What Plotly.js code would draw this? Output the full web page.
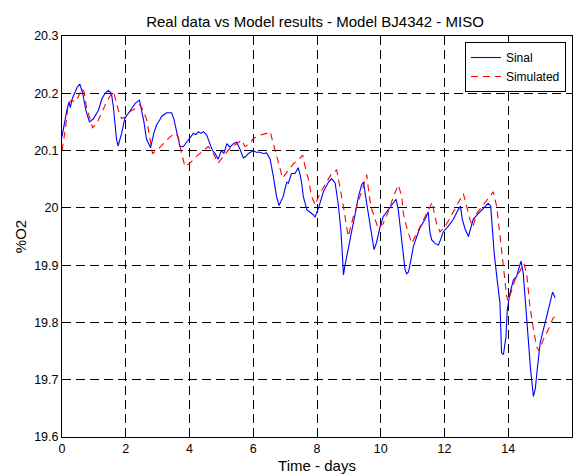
<!DOCTYPE html>
<html>
<head>
<meta charset="utf-8">
<script src="https://cdn.plot.ly/plotly-3.0.1.min.js"></script>
<style>html,body{margin:0;padding:0;background:#fff;}#chart{width:578px;height:475px;}</style>
</head>
<body>
<div id="chart"></div>
<script>
const sinalDays = [0,0.08,0.15,0.22,0.26,0.32,0.4,0.48,0.56,0.65,0.75,0.86,0.98,1.06,1.14,1.25,1.35,1.45,1.55,1.61,1.66,1.71,1.76,1.87,1.97,2.13,2.29,2.43,2.5,2.57,2.65,2.78,2.88,2.97,3.05,3.13,3.28,3.44,3.51,3.6,3.7,3.81,3.96,4.04,4.12,4.2,4.28,4.36,4.44,4.54,4.64,4.72,4.8,4.9,5.0,5.08,5.17,5.27,5.38,5.48,5.6,5.69,5.77,5.85,6.0,6.1,6.21,6.32,6.42,6.53,6.63,6.73,6.81,6.94,7.05,7.1,7.2,7.31,7.41,7.47,7.52,7.57,7.68,7.78,7.88,7.94,8.05,8.2,8.3,8.36,8.46,8.57,8.67,8.75,8.8,8.83,8.88,8.98,9.09,9.2,9.3,9.4,9.46,9.51,9.61,9.72,9.79,9.87,9.98,10.08,10.24,10.4,10.48,10.55,10.66,10.76,10.81,10.87,10.95,11.02,11.13,11.23,11.39,11.49,11.54,11.6,11.7,11.81,11.88,11.96,12.12,12.28,12.43,12.5,12.56,12.64,12.75,12.82,12.9,13.06,13.22,13.37,13.45,13.51,13.56,13.64,13.74,13.79,13.85,13.93,13.97,14.05,14.16,14.26,14.37,14.4,14.47,14.56,14.63,14.7,14.79,14.85,14.91,15.0,15.1,15.21,15.31,15.39,15.47];
const sinalO2 = [20.124,20.15,20.17,20.185,20.175,20.19,20.2,20.211,20.216,20.2,20.17,20.15,20.155,20.162,20.17,20.19,20.2,20.205,20.2,20.177,20.14,20.12,20.108,20.13,20.156,20.17,20.182,20.188,20.17,20.15,20.12,20.105,20.13,20.145,20.152,20.16,20.166,20.166,20.155,20.133,20.107,20.107,20.118,20.125,20.13,20.128,20.133,20.13,20.133,20.127,20.112,20.1,20.095,20.085,20.1,20.095,20.112,20.106,20.112,20.115,20.1,20.087,20.09,20.095,20.1,20.097,20.097,20.095,20.096,20.085,20.055,20.02,20.004,20.02,20.045,20.043,20.06,20.06,20.07,20.058,20.043,20.02,19.997,19.993,19.988,19.984,20.0,20.028,20.04,20.045,20.051,20.043,20.005,19.96,19.915,19.883,19.9,19.932,19.96,19.99,20.02,20.04,20.045,20.025,19.99,19.95,19.927,19.94,19.967,19.985,19.997,20.01,20.015,19.997,19.944,19.893,19.885,19.888,19.91,19.932,19.95,19.965,19.98,19.993,19.958,19.944,19.938,19.935,19.945,19.958,19.968,19.98,19.997,20.003,19.98,19.964,19.95,19.965,19.98,19.99,19.999,20.008,20.003,19.96,19.92,19.88,19.834,19.747,19.744,19.776,19.822,19.85,19.874,19.88,19.903,19.907,19.886,19.822,19.764,19.718,19.671,19.685,19.718,19.764,19.787,19.81,19.834,19.853,19.843];

const simDays = [0,0.1,0.2,0.3,0.41,0.51,0.62,0.69,0.77,0.88,0.96,1.08,1.24,1.4,1.56,1.61,1.68,1.77,1.87,1.97,2.13,2.29,2.44,2.55,2.66,2.76,2.84,2.97,3.18,3.39,3.55,3.65,3.75,3.86,4.01,4.22,4.44,4.59,4.7,4.8,4.9,5.06,5.27,5.48,5.64,5.74,5.9,6.0,6.22,6.42,6.53,6.63,6.79,6.92,7.05,7.26,7.47,7.55,7.65,7.73,7.83,7.94,8.09,8.3,8.46,8.62,8.72,8.83,8.93,8.98,9.14,9.3,9.45,9.56,9.64,9.72,9.83,9.92,10.08,10.24,10.4,10.55,10.66,10.71,10.81,10.97,11.08,11.23,11.39,11.55,11.62,11.68,11.75,11.86,12.01,12.17,12.33,12.49,12.59,12.7,12.8,12.89,13.01,13.17,13.37,13.53,13.64,13.74,13.85,13.95,14.0,14.11,14.21,14.37,14.49,14.58,14.68,14.79,14.89,14.97,15.1,15.26,15.41,15.47];
const simO2 = [20.1,20.135,20.182,20.188,20.185,20.194,20.208,20.203,20.176,20.153,20.14,20.146,20.165,20.185,20.2,20.203,20.19,20.17,20.156,20.158,20.168,20.173,20.18,20.17,20.153,20.118,20.095,20.1,20.112,20.124,20.13,20.124,20.095,20.072,20.078,20.09,20.1,20.107,20.1,20.09,20.078,20.09,20.104,20.112,20.118,20.107,20.112,20.121,20.127,20.13,20.133,20.112,20.078,20.052,20.062,20.077,20.087,20.092,20.066,20.05,20.02,20.005,20.025,20.046,20.06,20.066,20.037,20.002,19.967,19.95,19.985,20.01,20.037,20.058,20.02,19.997,19.98,19.964,19.973,19.994,20.02,20.04,20.02,19.99,19.967,19.938,19.95,19.967,19.984,20.002,20.01,19.99,19.973,19.958,19.967,19.982,19.999,20.017,20.025,20.002,19.979,19.967,19.99,20.002,20.017,20.028,20.002,19.95,19.892,19.846,19.837,19.855,19.874,19.89,19.903,19.884,19.828,19.788,19.758,19.75,19.77,19.788,19.808,19.81];

const titleText = "Real data vs Model results - Model BJ4342 - MISO";
const xTitle = "Time - days";
const yTitle = "%O2";
const seriesNames = ["Sinal", "Simulated"];

const font = "Liberation Sans, Arial, sans-serif";

const traces = [
  {x: sinalDays, y: sinalO2, type: "scatter", mode: "lines", name: seriesNames[0],
   line: {color: "#0000ff", width: 1.1}},
  {x: simDays, y: simO2, type: "scatter", mode: "lines", name: seriesNames[1],
   line: {color: "#ff0000", width: 1.1, dash: "7px,5px"}}
];

const axisCommon = {
  showline: true, linecolor: "#000", linewidth: 1, mirror: "ticks",
  ticks: "inside", ticklen: 4, tickcolor: "#000",
  showgrid: true, gridcolor: "#000", gridwidth: 1, griddash: "9px,5px",
  zeroline: false, tickfont: {family: font, size: 12.5, color: "#000"}
};

const layout = {
  width: 578, height: 475,
  margin: {l: 62, r: 6, t: 36, b: 38},
  paper_bgcolor: "#fff", plot_bgcolor: "#fff",
  font: {family: font, color: "#000"},
  title: {text: titleText, font: {family: font, size: 15, color: "#000"}, x: 0.545, xanchor: "center", y: 0.954, yanchor: "middle"},
  xaxis: Object.assign({}, axisCommon, {
    range: [0, 16], dtick: 2, tick0: 0,
    title: {text: xTitle, font: {family: font, size: 15}, standoff: 5}
  }),
  yaxis: Object.assign({}, axisCommon, {
    range: [19.6, 20.3], dtick: 0.1, tick0: 19.6,
    title: {text: yTitle, font: {family: font, size: 15}, standoff: 3}
  }),
  showlegend: true,
  legend: {
    x: 0.988, xanchor: "right", y: 0.985, yanchor: "top",
    bgcolor: "#fff", bordercolor: "#000", borderwidth: 1,
    font: {family: font, size: 12, color: "#000"},
    tracegroupgap: 0, itemwidth: 30, entrywidth: 100, entrywidthmode: "pixels"
  }
};

Plotly.newPlot("chart", traces, layout, {displayModeBar: false, staticPlot: true});
</script>
</body>
</html>
